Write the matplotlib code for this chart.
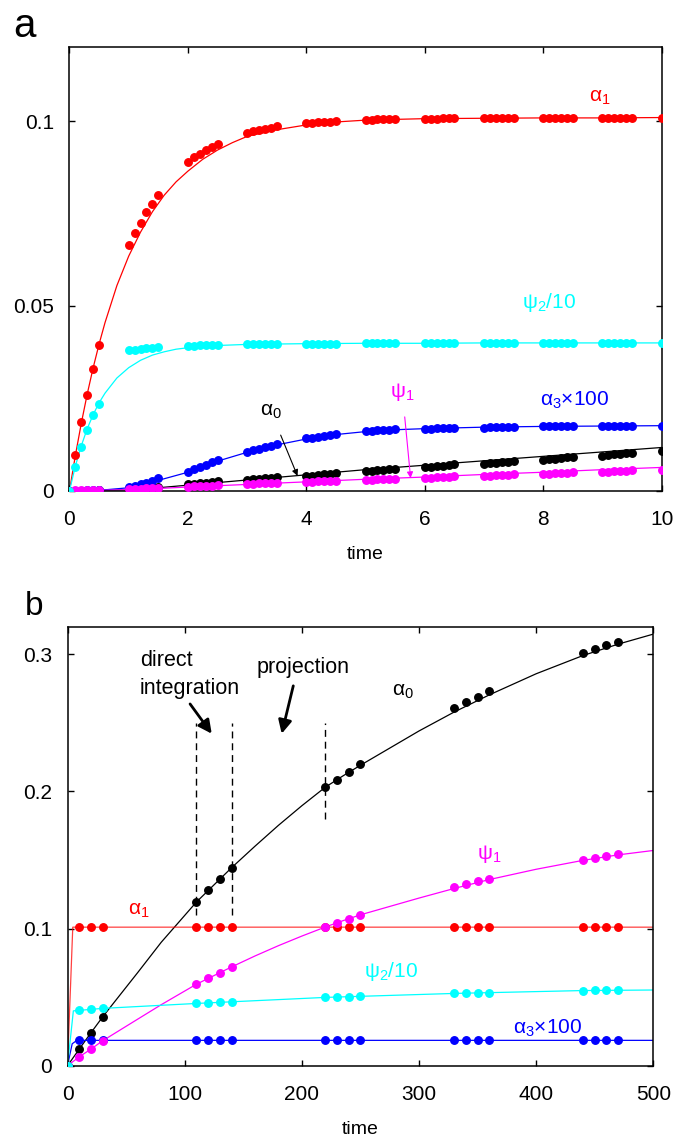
import matplotlib
matplotlib.use("Agg")
import matplotlib.pyplot as plt

plt.rcParams['font.family'] = ['Liberation Sans', 'DejaVu Sans']
plt.rcParams['mathtext.fontset'] = 'custom'
plt.rcParams['mathtext.rm'] = 'Liberation Sans'
plt.rcParams['mathtext.it'] = 'Liberation Sans:italic'
plt.rcParams['mathtext.default'] = 'regular'

# ---------------- panel a data ----------------
a_times = [0,
           0.1, 0.2, 0.3, 0.4, 0.5,
           1.0, 1.1, 1.2, 1.3, 1.4, 1.5,
           2.0, 2.1, 2.2, 2.3, 2.4, 2.5,
           3.0, 3.1, 3.2, 3.3, 3.4, 3.5,
           4.0, 4.1, 4.2, 4.3, 4.4, 4.5,
           5.0, 5.1, 5.2, 5.3, 5.4, 5.5,
           6.0, 6.1, 6.2, 6.3, 6.4, 6.5,
           7.0, 7.1, 7.2, 7.3, 7.4, 7.5,
           8.0, 8.1, 8.2, 8.3, 8.4, 8.5,
           9.0, 9.1, 9.2, 9.3, 9.4, 9.5,
           10.0]

a_alpha1 = [0,
            0.0097, 0.0185, 0.0260, 0.0330, 0.0395,
            0.0666, 0.0697, 0.0725, 0.0753, 0.0775, 0.0799,
            0.0891, 0.0903, 0.0912, 0.0921, 0.0930, 0.0938,
            0.0969, 0.0973, 0.0977, 0.0980, 0.0983, 0.0986,
            0.0995, 0.0996, 0.0997, 0.0998, 0.0999, 0.1000,
            0.1004, 0.1004, 0.1005, 0.1005, 0.1005, 0.1006,
            0.1007, 0.1007, 0.1007, 0.1008, 0.1008, 0.1008,
            0.1008, 0.1008, 0.1008, 0.1009, 0.1009, 0.1009,
            0.1009, 0.1009, 0.1009, 0.1009, 0.1009, 0.1009,
            0.1009, 0.1009, 0.1010, 0.1010, 0.1010, 0.1010,
            0.1010]

a_psi2 = [0,
          0.0065, 0.0119, 0.0164, 0.0205, 0.0236,
          0.0380, 0.0382, 0.0384, 0.0385, 0.0386, 0.0388,
          0.0392, 0.0393, 0.0394, 0.0394, 0.0395, 0.0395,
          0.0396, 0.0396, 0.0397, 0.0397, 0.0397, 0.0397,
          0.0398, 0.0398, 0.0398, 0.0398, 0.0398, 0.0398,
          0.0399, 0.0399, 0.0399, 0.0399, 0.0399, 0.0399,
          0.0399, 0.0399, 0.0399, 0.0399, 0.0399, 0.0399,
          0.0399, 0.0399, 0.0399, 0.0399, 0.0399, 0.0399,
          0.0399, 0.0399, 0.0399, 0.0399, 0.0399, 0.0399,
          0.0399, 0.0399, 0.0399, 0.0399, 0.0399, 0.0399,
          0.0400]

a_alpha3 = [0,
            0.0000, 0.0000, 0.0001, 0.0001, 0.0001,
            0.0009, 0.0013, 0.0017, 0.0022, 0.0027, 0.0034,
            0.0051, 0.0058, 0.0064, 0.0070, 0.0077, 0.0083,
            0.0105, 0.0110, 0.0114, 0.0118, 0.0122, 0.0126,
            0.0142, 0.0144, 0.0146, 0.0149, 0.0151, 0.0153,
            0.0161, 0.0162, 0.0163, 0.0164, 0.0165, 0.0166,
            0.0168, 0.0168, 0.0169, 0.0170, 0.0170, 0.0171,
            0.0171, 0.0172, 0.0172, 0.0173, 0.0173, 0.0173,
            0.0174, 0.0174, 0.0175, 0.0175, 0.0175, 0.0175,
            0.0175, 0.0175, 0.0176, 0.0176, 0.0176, 0.0176,
            0.0176]

a_alpha0 = [0,
            0.0000, 0.0000, 0.0000, 0.0000, 0.0001,
            0.0004, 0.0005, 0.0006, 0.0007, 0.0008, 0.0009,
            0.0018, 0.0019, 0.0021, 0.0022, 0.0024, 0.0025,
            0.0030, 0.0031, 0.0032, 0.0034, 0.0035, 0.0036,
            0.0040, 0.0041, 0.0043, 0.0044, 0.0046, 0.0047,
            0.0052, 0.0054, 0.0055, 0.0057, 0.0058, 0.0060,
            0.0063, 0.0065, 0.0066, 0.0068, 0.0070, 0.0071,
            0.0073, 0.0074, 0.0076, 0.0077, 0.0079, 0.0080,
            0.0083, 0.0085, 0.0087, 0.0088, 0.0090, 0.0092,
            0.0094, 0.0096, 0.0098, 0.0099, 0.0101, 0.0103,
            0.0107]

a_psi1 = [0,
          0.0001, 0.0001, 0.0001, 0.0002, 0.0002,
          0.0004, 0.0004, 0.0005, 0.0006, 0.0006, 0.0007,
          0.0011, 0.0012, 0.0013, 0.0013, 0.0014, 0.0015,
          0.0018, 0.0019, 0.0020, 0.0020, 0.0021, 0.0022,
          0.0023, 0.0024, 0.0025, 0.0025, 0.0026, 0.0027,
          0.0029, 0.0030, 0.0031, 0.0031, 0.0032, 0.0033,
          0.0034, 0.0035, 0.0036, 0.0037, 0.0038, 0.0039,
          0.0040, 0.0041, 0.0042, 0.0042, 0.0043, 0.0044,
          0.0045, 0.0046, 0.0047, 0.0048, 0.0049, 0.0050,
          0.0050, 0.0051, 0.0052, 0.0053, 0.0054, 0.0055,
          0.0057]

# reference curves of panel a
a_ref_t1 = [0, 0.1, 0.2, 0.3, 0.4, 0.5, 0.6, 0.8, 1.0, 1.2, 1.4, 1.6, 1.8,
            2.0, 2.25, 2.5, 2.75, 3.0, 3.5, 4.0, 4.5, 5, 6, 7, 8, 9, 10]
a_ref_alpha1 = [0, 0.0096, 0.0183, 0.0262, 0.0333, 0.0397, 0.0455, 0.0555,
                0.0635, 0.0700, 0.0755, 0.0800, 0.0836, 0.0865, 0.0897,
                0.0922, 0.0942, 0.0959, 0.0977, 0.0990, 0.0998, 0.1003,
                0.1007, 0.1008, 0.1009, 0.1009, 0.1010]

a_ref_t2 = [0, 0.1, 0.2, 0.3, 0.4, 0.5, 0.6, 0.8, 1.0, 1.2, 1.4, 1.6, 1.8,
            2.0, 2.5, 3, 4, 5, 6, 7, 8, 9, 10]
a_ref_psi2 = [0, 0.0067, 0.0122, 0.0168, 0.0206, 0.0238, 0.0264, 0.0305,
              0.0333, 0.0353, 0.0367, 0.0376, 0.0383, 0.0387, 0.0393,
              0.0396, 0.0398, 0.0399, 0.0399, 0.0400, 0.0400, 0.0400, 0.0400]

a_ref_t3 = [0, 0.5, 1, 1.5, 2, 2.5, 3, 3.5, 4, 4.5, 5, 5.5, 6, 7, 8, 9, 10]
a_ref_alpha3 = [0, 0.0001, 0.0008, 0.0028, 0.0050, 0.0080, 0.0104, 0.0124,
                0.0140, 0.0152, 0.0160, 0.0165, 0.0168, 0.0172, 0.0174,
                0.0175, 0.0176]

a_ref_t4 = [0, 0.5, 1, 1.5, 2, 3, 4, 5, 6, 7, 8, 9, 10]
a_ref_alpha0 = [0, 0.0001, 0.0003, 0.0008, 0.0015, 0.0029, 0.0043, 0.0057,
                0.0069, 0.0081, 0.0093, 0.0105, 0.0117]
a_ref_psi1 = [0, 0.0001, 0.0003, 0.0006, 0.0010, 0.0017, 0.0024, 0.0031,
              0.0037, 0.0044, 0.0050, 0.0057, 0.0063]

# ---------------- panel b data ----------------
b_times = [0, 10, 20, 30, 110, 120, 130, 140, 220, 230, 240, 250,
           330, 340, 350, 360, 440, 450, 460, 470]
b_alpha1 = [0, 0.101, 0.101, 0.101, 0.101, 0.101, 0.101, 0.101, 0.101, 0.101,
            0.101, 0.101, 0.101, 0.101, 0.101, 0.101, 0.101, 0.101, 0.101, 0.101]
b_psi2 = [0, 0.0405, 0.0412, 0.0418, 0.0454, 0.0458, 0.0461, 0.0466,
          0.0498, 0.0500, 0.0503, 0.0505, 0.0527, 0.0529, 0.0531, 0.0533,
          0.0548, 0.0549, 0.0550, 0.0551]
b_alpha3 = [0, 0.0185, 0.0185, 0.0185, 0.0185, 0.0185, 0.0185, 0.0185,
            0.0185, 0.0185, 0.0185, 0.0185, 0.0185, 0.0185, 0.0185, 0.0185,
            0.0185, 0.0185, 0.0185, 0.0185]
b_alpha0 = [0, 0.0121, 0.0240, 0.0356, 0.1193, 0.1278, 0.1360, 0.1443,
            0.2030, 0.2086, 0.2144, 0.2200, 0.2607, 0.2648, 0.2687, 0.2728,
            0.3007, 0.3036, 0.3065, 0.3092]
b_psi1 = [0, 0.0065, 0.0121, 0.0182, 0.0594, 0.0640, 0.0679, 0.0720,
          0.1011, 0.1040, 0.1072, 0.1101, 0.1302, 0.1324, 0.1346, 0.1363,
          0.1501, 0.1516, 0.1528, 0.1542]

b_ref_t_fast = [0, 4.5, 500]
b_ref_alpha1 = [0, 0.101, 0.101]
b_ref_t_psi2 = [0, 5, 30, 110, 220, 330, 440, 500]
b_ref_psi2 = [0, 0.040, 0.0418, 0.0454, 0.0498, 0.0527, 0.0548, 0.0552]
b_ref_t_alpha3 = [0, 4, 8, 500]
b_ref_alpha3 = [0, 0.016, 0.0185, 0.0185]
b_ref_t = [0, 10, 20, 30, 60, 80, 110, 140, 160, 180, 200, 220, 235, 250,
           300, 330, 360, 400, 440, 470, 500]
b_ref_alpha0 = [0, 0.0121, 0.0240, 0.0356, 0.0680, 0.0900, 0.1193, 0.1443,
                0.1600, 0.1752, 0.1895, 0.2030, 0.2112, 0.2190, 0.2440,
                0.2578, 0.2703, 0.2857, 0.2990, 0.3073, 0.3146]
b_ref_psi1 = [0, 0.0065, 0.0121, 0.0182, 0.0340, 0.0445, 0.0594, 0.0720,
              0.0800, 0.0875, 0.0945, 0.1011, 0.1057, 0.1100, 0.1222,
              0.1292, 0.1357, 0.1432, 0.1497, 0.1537, 0.1569]

dash_t = [110, 140, 220]
dash_low = [0.11, 0.11, 0.18]
dash_high = 0.25

red, cyan, blue, black, magenta = 'red', 'cyan', 'blue', 'black', 'magenta'
ms = 5.4


def style_axes(ax):
    for s in ax.spines.values():
        s.set_linewidth(1.1)
    ax.tick_params(direction='in', top=True, right=True, length=4, width=1,
                   labelsize=15)
    ax.tick_params(axis='x', pad=14)
    ax.tick_params(axis='y', pad=11)


fig = plt.figure(figsize=(6.86, 11.38), dpi=100)

# ---------------- panel a ----------------
ax = fig.add_axes([0.1013, 0.5688, 0.8633, 0.3896])
ax.plot(a_ref_t4, a_ref_alpha0, color=black, lw=0.9, zorder=2)
ax.plot(a_ref_t3, a_ref_alpha3, color=blue, lw=0.9, zorder=2)
ax.plot(a_ref_t1, a_ref_alpha1, color=red, lw=0.9, zorder=2)
ax.plot(a_ref_t4, a_ref_psi1, color=magenta, lw=0.9, zorder=2)
ax.plot(a_ref_t2, a_ref_psi2, color=cyan, lw=0.9, zorder=2)
ax.plot(a_times, a_alpha0, 'o', color=black, ms=ms, zorder=3)
ax.plot(a_times, a_alpha3, 'o', color=blue, ms=ms, zorder=4)
ax.plot(a_times, a_alpha1, 'o', color=red, ms=ms, zorder=5)
ax.plot(a_times, a_psi1, 'o', color=magenta, ms=ms, zorder=6)
ax.plot(a_times, a_psi2, 'o', color=cyan, ms=ms, zorder=7)
ax.set_xlim(0, 10)
ax.set_ylim(0, 0.12)
ax.set_xticks([0, 2, 4, 6, 8, 10])
ax.set_yticks([0, 0.05, 0.1])
ax.set_yticklabels(['0', '0.05', '0.1'])
ax.set_xlabel('time', fontsize=14, labelpad=12)
style_axes(ax)

ax.text(8.95, 0.1064, 'α$_1$', color=red, fontsize=15, ha='center', va='center')
ax.text(8.1, 0.051, 'ψ$_2$/10', color=cyan, fontsize=15, ha='center', va='center')
ax.text(8.53, 0.0245, 'α$_3$×100', color=blue, fontsize=15, ha='center', va='center')
ax.annotate('ψ$_1$', xy=(5.76, 0.0034), xytext=(5.62, 0.0267), color=magenta,
            fontsize=15, ha='center', va='center',
            arrowprops=dict(arrowstyle='-|>', color=magenta, lw=0.8,
                            mutation_scale=9, shrinkA=8, shrinkB=0))
ax.annotate('α$_0$', xy=(3.85, 0.0040), xytext=(3.4, 0.0215), color=black,
            fontsize=15, ha='center', va='center',
            arrowprops=dict(arrowstyle='-|>', color=black, lw=0.8,
                            mutation_scale=9, shrinkA=9, shrinkB=0))
fig.text(0.019, 0.9935, 'a', fontsize=29, ha='left', va='top')

# ---------------- panel b ----------------
bx = fig.add_axes([0.0984, 0.0635, 0.854, 0.3858])
bx.plot(b_ref_t, b_ref_alpha0, color=black, lw=0.9, zorder=2)
bx.plot(b_ref_t_alpha3, b_ref_alpha3, color=blue, lw=0.9, zorder=2)
bx.plot(b_ref_t_fast, b_ref_alpha1, color=red, lw=0.9, alpha=0.75, zorder=2)
bx.plot(b_ref_t, b_ref_psi1, color=magenta, lw=0.9, zorder=2)
bx.plot(b_ref_t_psi2, b_ref_psi2, color=cyan, lw=0.9, zorder=2)
bx.plot(b_times, b_alpha0, 'o', color=black, ms=ms, zorder=3)
bx.plot(b_times, b_alpha3, 'o', color=blue, ms=ms, zorder=4)
bx.plot(b_times, b_alpha1, 'o', color=red, ms=ms, zorder=5)
bx.plot(b_times, b_psi1, 'o', color=magenta, ms=ms, zorder=6)
bx.plot(b_times, b_psi2, 'o', color=cyan, ms=ms, zorder=7)
for t, lo in zip(dash_t, dash_low):
    bx.plot([t, t], [lo, dash_high], color='black', lw=1.0,
            linestyle=(0, (5, 3.5)), zorder=1)
bx.set_xlim(0, 500)
bx.set_ylim(0, 0.32)
bx.set_xticks([0, 100, 200, 300, 400, 500])
bx.set_yticks([0, 0.1, 0.2, 0.3])
bx.set_yticklabels(['0', '0.1', '0.2', '0.3'])
bx.set_xlabel('time', fontsize=14, labelpad=12)
style_axes(bx)

bx.text(61.9, 0.3030, 'direct\nintegration', fontsize=15.5, ha='left', va='top',
        linespacing=1.45)
bx.text(161.7, 0.2980, 'projection', fontsize=15.5, ha='left', va='top')
bx.annotate('', xy=(123.1, 0.242), xytext=(104.6, 0.2637),
            arrowprops=dict(arrowstyle='-|>', color='black', lw=2,
                            mutation_scale=20, shrinkA=0, shrinkB=0))
bx.annotate('', xy=(182.8, 0.242), xytext=(192.7, 0.2769),
            arrowprops=dict(arrowstyle='-|>', color='black', lw=2,
                            mutation_scale=20, shrinkA=0, shrinkB=0))
bx.text(286, 0.273, 'α$_0$', color=black, fontsize=15, ha='center', va='center')
bx.text(360, 0.154, 'ψ$_1$', color=magenta, fontsize=15, ha='center', va='center')
bx.text(61, 0.113, 'α$_1$', color=red, fontsize=15, ha='center', va='center')
bx.text(276, 0.069, 'ψ$_2$/10', color=cyan, fontsize=15, ha='center', va='center')
bx.text(410, 0.0274, 'α$_3$×100', color=blue, fontsize=15, ha='center', va='center')
fig.text(0.036, 0.4807, 'b', fontsize=24, ha='left', va='top')

fig.savefig('out.png', dpi=100)
